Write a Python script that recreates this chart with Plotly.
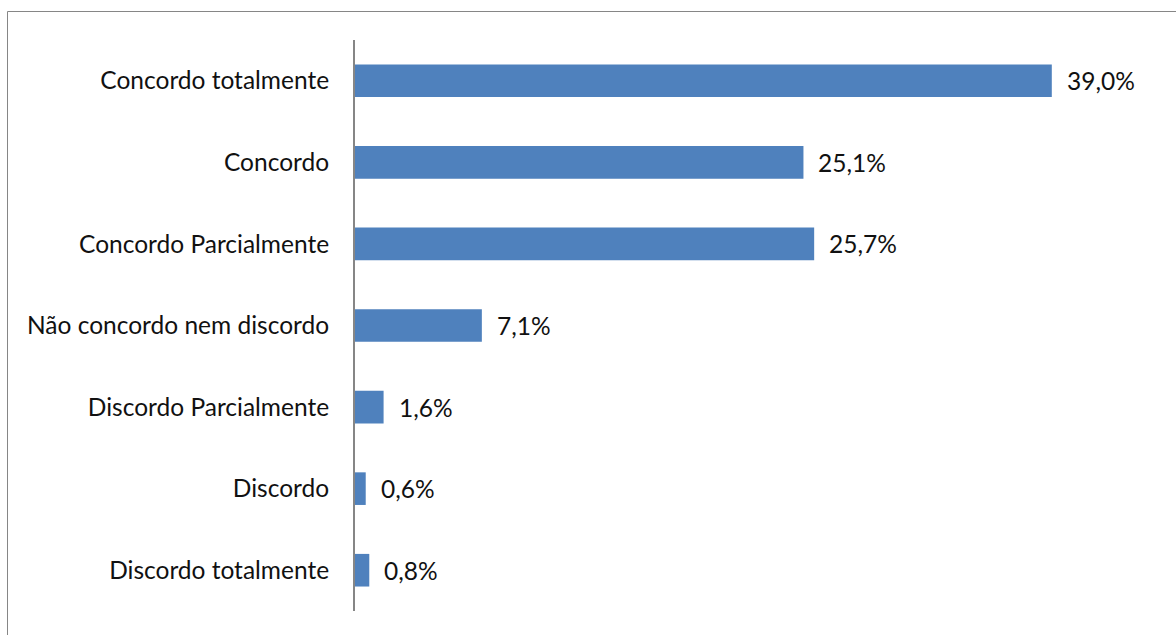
import plotly.graph_objects as go

# Survey response categories (top to bottom) and their shares in percent
categories = [
    "Concordo totalmente",
    "Concordo",
    "Concordo Parcialmente",
    "Não concordo nem discordo",
    "Discordo Parcialmente",
    "Discordo",
    "Discordo totalmente",
]
percentages = [39.0, 25.1, 25.7, 7.1, 1.6, 0.6, 0.8]

W, H = 1176, 635
L, R, T, B = 355, 17, 40, 24
plot_w = W - L - R
plot_h = H - T - B

FONT = "Lato"
FONT_SIZE = 24.5
BAR_COLOR = "#4F81BD"
GRID_GRAY = "#868686"
TEXT_COLOR = "#111111"

fig = go.Figure(
    go.Bar(
        x=percentages,
        y=categories,
        orientation="h",
        marker=dict(color=BAR_COLOR, line=dict(width=0)),
        hoverinfo="skip",
    )
)

# Value labels placed just past each bar end
for cat, val in zip(categories, percentages):
    fig.add_annotation(
        x=val,
        y=cat,
        xref="x",
        yref="y",
        text=f"{val:.1f}%".replace(".", ","),
        showarrow=False,
        xanchor="left",
        yanchor="middle",
        xshift=13,
        font=dict(family=FONT, size=FONT_SIZE, color=TEXT_COLOR),
    )

# Outer chart frame (runs past the right and bottom edges of the page)
def px_to_paper_x(px):
    return (px - L) / plot_w

def px_to_paper_y(py):
    return (H - B - py) / plot_h

fig.add_shape(
    type="rect",
    xref="paper",
    yref="paper",
    x0=px_to_paper_x(7.5),
    x1=px_to_paper_x(1190),
    y0=px_to_paper_y(650),
    y1=px_to_paper_y(11.5),
    line=dict(color=GRID_GRAY, width=1),
    fillcolor="rgba(0,0,0,0)",
    layer="below",
)

fig.update_layout(
    width=W,
    height=H,
    margin=dict(l=L, r=R, t=T, b=B, pad=0),
    paper_bgcolor="#ffffff",
    plot_bgcolor="#ffffff",
    bargap=0.6,
    showlegend=False,
    font=dict(family=FONT, size=FONT_SIZE, color=TEXT_COLOR),
    xaxis=dict(
        range=[0, 45],
        visible=False,
        fixedrange=True,
    ),
    yaxis=dict(
        autorange="reversed",
        showgrid=False,
        zeroline=False,
        showline=True,
        linecolor=GRID_GRAY,
        linewidth=2,
        ticks="",
        ticklabelstandoff=19,
        tickfont=dict(family=FONT, size=FONT_SIZE, color=TEXT_COLOR),
        fixedrange=True,
    ),
)

fig.write_html("out.html")
